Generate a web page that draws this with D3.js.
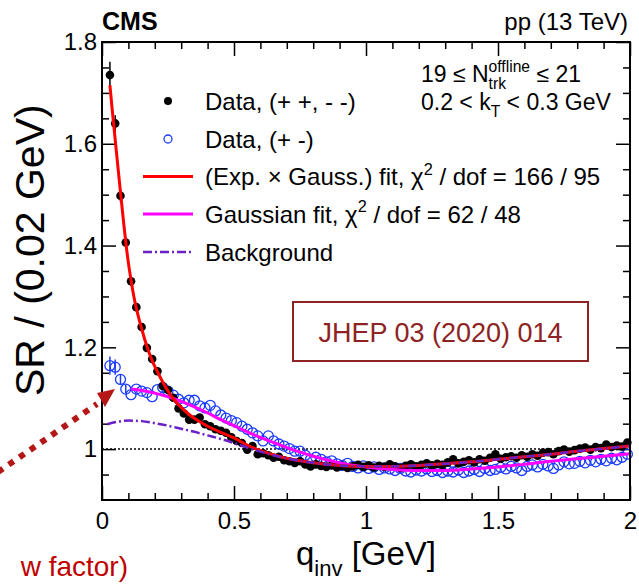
<!DOCTYPE html>
<html>
<head>
<meta charset="utf-8">
<script src="https://cdn.jsdelivr.net/npm/d3@7"></script>
<style>
  body { margin: 0; background: #fff; }
  svg text { font-family: "Liberation Sans", Arial, Helvetica, sans-serif; white-space: pre; }
</style>
</head>
<body>
<svg id="chart" width="639" height="584"></svg>
<script>
// q_inv bin centres (GeV)
const qBins = [
  0.03, 0.05, 0.07, 0.09, 0.11, 0.13, 0.15, 0.17, 0.19, 0.21,
  0.23, 0.25, 0.27, 0.29, 0.31, 0.33, 0.35, 0.37, 0.39, 0.41,
  0.43, 0.45, 0.47, 0.49, 0.51, 0.53, 0.55, 0.57, 0.59, 0.61,
  0.63, 0.65, 0.67, 0.69, 0.71, 0.73, 0.75, 0.77, 0.79, 0.81,
  0.83, 0.85, 0.87, 0.89, 0.91, 0.93, 0.95, 0.97, 0.99, 1.01,
  1.03, 1.05, 1.07, 1.09, 1.11, 1.13, 1.15, 1.17, 1.19, 1.21,
  1.23, 1.25, 1.27, 1.29, 1.31, 1.33, 1.35, 1.37, 1.39, 1.41,
  1.43, 1.45, 1.47, 1.49, 1.51, 1.53, 1.55, 1.57, 1.59, 1.61,
  1.63, 1.65, 1.67, 1.69, 1.71, 1.73, 1.75, 1.77, 1.79, 1.81,
  1.83, 1.85, 1.87, 1.89, 1.91, 1.93, 1.95, 1.97, 1.99
];

// same-sign pairs (+ +, - -)
const srSame = [
  1.735, 1.640, 1.498, 1.406, 1.330, 1.279, 1.240, 1.199, 1.177, 1.153,
  1.124, 1.116, 1.101, 1.080, 1.070, 1.058, 1.058, 1.062, 1.049, 1.045,
  1.039, 1.036, 1.032, 1.023, 1.016, 1.012, 0.999, 1.006, 0.990, 0.992,
  0.988, 0.983, 0.985, 0.978, 0.976, 0.973, 0.976, 0.970, 0.966, 0.970,
  0.967, 0.965, 0.968, 0.964, 0.967, 0.963, 0.966, 0.969, 0.965, 0.968,
  0.964, 0.967, 0.965, 0.970, 0.966, 0.963, 0.967, 0.970, 0.966, 0.969,
  0.972, 0.968, 0.971, 0.969, 0.974, 0.980, 0.972, 0.975, 0.978, 0.974,
  0.980, 0.977, 0.983, 0.990, 0.981, 0.984, 0.986, 0.983, 0.988, 0.985,
  0.990, 0.987, 0.993, 0.994, 0.990, 0.996, 0.999, 0.995, 0.998, 1.001,
  1.003, 0.999, 1.004, 1.002, 1.009, 1.004, 1.007, 1.005, 1.013
];

// opposite-sign pairs (+ -)
const srOpp = [
  1.164, 1.161, 1.137, 1.118, 1.107, 1.118, 1.114, 1.111, 1.103, 1.117,
  1.121, 1.114, 1.106, 1.098, 1.091, 1.096, 1.096, 1.085, 1.081, 1.086,
  1.075, 1.067, 1.061, 1.056, 1.052, 1.045, 1.039, 1.032, 1.026, 1.016,
  1.026, 1.016, 1.010, 1.006, 1.001, 0.996, 0.996, 0.988, 0.980, 0.984,
  0.980, 0.975, 0.977, 0.971, 0.968, 0.972, 0.966, 0.963, 0.967, 0.962,
  0.965, 0.960, 0.963, 0.961, 0.958, 0.962, 0.957, 0.955, 0.959, 0.957,
  0.961, 0.956, 0.958, 0.954, 0.957, 0.955, 0.959, 0.954, 0.957, 0.960,
  0.956, 0.962, 0.958, 0.960, 0.964, 0.961, 0.966, 0.963, 0.958, 0.966,
  0.969, 0.965, 0.970, 0.967, 0.962, 0.969, 0.975, 0.971, 0.972, 0.976,
  0.973, 0.978, 0.975, 0.980, 0.977, 0.982, 0.979, 0.984, 0.990
];

// visible error bars (first bins only; the rest hide under the markers)
const errSame = [0.026, 0.016, 0.012, 0.010, 0.009, 0.008];
const errOpp = [0.018, 0.015, 0.010, 0.008];

// fit curves
const fitExpQ = [0.03, 0.04, 0.05, 0.06, 0.07, 0.08, 0.09, 0.10, 0.11, 0.12, 0.13, 0.14, 0.15, 0.17, 0.19, 0.21, 0.23, 0.25, 0.27, 0.30, 0.33, 0.36, 0.40, 0.45, 0.50, 0.55, 0.60, 0.65, 0.70, 0.75, 0.80, 0.90, 1.00, 1.10, 1.20, 1.30, 1.40, 1.50, 1.60, 1.70, 1.80, 1.90, 2.00];
const fitExpV = [1.715, 1.660, 1.608, 1.556, 1.505, 1.455, 1.407, 1.366, 1.332, 1.302, 1.277, 1.256, 1.237, 1.202, 1.174, 1.152, 1.132, 1.114, 1.099, 1.082, 1.068, 1.057, 1.045, 1.033, 1.022, 1.008, 0.997, 0.989, 0.982, 0.977, 0.973, 0.968, 0.966, 0.966, 0.968, 0.971, 0.975, 0.980, 0.985, 0.990, 0.996, 1.001, 1.006];

const fitGausQ = [0.11, 0.15, 0.20, 0.25, 0.30, 0.35, 0.40, 0.45, 0.50, 0.55, 0.60, 0.65, 0.70, 0.75, 0.80, 0.85, 0.90, 1.00, 1.10, 1.20, 1.30, 1.40, 1.50, 1.60, 1.70, 1.80, 1.90, 2.00];
const fitGausV = [1.118, 1.115, 1.110, 1.103, 1.094, 1.083, 1.071, 1.058, 1.046, 1.034, 1.023, 1.013, 1.003, 0.994, 0.986, 0.979, 0.973, 0.965, 0.960, 0.958, 0.958, 0.961, 0.965, 0.970, 0.976, 0.981, 0.986, 0.991];

const bkgQ = [0.02, 0.06, 0.10, 0.15, 0.20, 0.25, 0.30, 0.35, 0.40, 0.45, 0.50, 0.55, 0.60, 0.65, 0.70, 0.75, 0.80, 0.90, 1.00, 1.10, 1.20, 1.30, 1.40, 1.50, 1.60, 1.70, 1.80, 1.90, 2.00];
const bkgV = [1.049, 1.054, 1.056, 1.055, 1.051, 1.046, 1.040, 1.034, 1.027, 1.020, 1.012, 1.003, 0.995, 0.988, 0.982, 0.977, 0.973, 0.968, 0.966, 0.966, 0.968, 0.971, 0.975, 0.980, 0.985, 0.990, 0.996, 1.001, 1.006];

// axes
const xTicks = [0, 0.5, 1, 1.5, 2];
const xTickLabels = ["0", "0.5", "1", "1.5", "2"];
const yTicks = [1, 1.2, 1.4, 1.6, 1.8];
const yTickLabels = ["1", "1.2", "1.4", "1.6", "1.8"];

const legendLabels = ["Data, (+ +, - -)", "Data, (+ -)", "(Exp. × Gauss.) fit, χ", "Gaussian fit, χ", "Background"];
const legendChi = ["", "", " / dof = 166 / 95", " / dof = 62 / 48", ""];

// styling
const fontMain = "'Liberation Sans', Arial, Helvetica, sans-serif";
const fontSlide = "Lato, 'Open Sans', sans-serif";
const redFit = "#ff0000";
const magentaFit = "#ff00ff";
const bkgColour = "#6b21c8";
const blueData = "#1a3cff";
const slideRed = "#8e2323";
const arrowRed = "#b51616";

const plot = { left: 102, right: 630, top: 42, bottom: 500 };

const svg = d3.select("#chart");

const x = d3.scaleLinear().domain([0, 2]).range([plot.left, plot.right]);
const y = d3.scaleLinear().domain([0.9, 1.8]).range([plot.bottom, plot.top]);

const xMinor = x.ticks(20).filter(d => !xTicks.includes(d));
const yMinor = d3.range(0.95, 1.8, 0.05).map(d => +d.toFixed(2)).filter(d => !yTicks.some(t => Math.abs(t - d) < 1e-6));

function styleAxis(g) {
  g.attr("font-family", fontMain).attr("font-size", 24);
  g.select(".domain").remove();
  g.selectAll(".tick line").attr("stroke", "#000").attr("stroke-width", 1.5);
  g.selectAll(".tick text").attr("fill", "#000");
}

// bottom
svg.append("g").attr("transform", `translate(0,${plot.bottom})`)
  .call(d3.axisBottom(x).tickValues(xTicks).tickSize(-14).tickSizeOuter(0).tickPadding(12)
    .tickFormat((d, i) => xTickLabels[i]))
  .call(styleAxis);
svg.append("g").attr("transform", `translate(0,${plot.bottom})`)
  .call(d3.axisBottom(x).tickValues(xMinor).tickSize(-7).tickSizeOuter(0).tickFormat(""))
  .call(styleAxis);
// top
svg.append("g").attr("transform", `translate(0,${plot.top})`)
  .call(d3.axisTop(x).tickValues(xTicks).tickSize(-14).tickSizeOuter(0).tickFormat(""))
  .call(styleAxis);
svg.append("g").attr("transform", `translate(0,${plot.top})`)
  .call(d3.axisTop(x).tickValues(xMinor).tickSize(-7).tickSizeOuter(0).tickFormat(""))
  .call(styleAxis);
// left
svg.append("g").attr("transform", `translate(${plot.left},0)`)
  .call(d3.axisLeft(y).tickValues(yTicks).tickSize(-14).tickSizeOuter(0).tickPadding(5)
    .tickFormat((d, i) => yTickLabels[i]))
  .call(styleAxis);
svg.append("g").attr("transform", `translate(${plot.left},0)`)
  .call(d3.axisLeft(y).tickValues(yMinor).tickSize(-7).tickSizeOuter(0).tickFormat(""))
  .call(styleAxis);
// right
svg.append("g").attr("transform", `translate(${plot.right},0)`)
  .call(d3.axisRight(y).tickValues(yTicks).tickSize(-14).tickSizeOuter(0).tickFormat(""))
  .call(styleAxis);
svg.append("g").attr("transform", `translate(${plot.right},0)`)
  .call(d3.axisRight(y).tickValues(yMinor).tickSize(-7).tickSizeOuter(0).tickFormat(""))
  .call(styleAxis);

// reference line at 1
svg.append("line")
  .attr("x1", x(0)).attr("x2", x(2))
  .attr("y1", y(1)).attr("y2", y(1))
  .attr("stroke", "#000").attr("stroke-width", 1.5).attr("stroke-dasharray", "2,2");

const plotArea = svg.append("g");

// opposite-sign data
plotArea.selectAll(".errOpp")
  .data(errOpp)
  .join("line")
  .attr("x1", (d, i) => x(qBins[i])).attr("x2", (d, i) => x(qBins[i]))
  .attr("y1", (d, i) => y(srOpp[i] - d)).attr("y2", (d, i) => y(srOpp[i] + d))
  .attr("stroke", blueData).attr("stroke-width", 1.5);

plotArea.selectAll(".opp")
  .data(srOpp)
  .join("circle")
  .attr("cx", (d, i) => x(qBins[i]))
  .attr("cy", d => y(d))
  .attr("r", 5)
  .attr("fill", "none")
  .attr("stroke", blueData)
  .attr("stroke-width", 1.3);

// same-sign data
plotArea.selectAll(".errSame")
  .data(errSame)
  .join("line")
  .attr("x1", (d, i) => x(qBins[i])).attr("x2", (d, i) => x(qBins[i]))
  .attr("y1", (d, i) => y(srSame[i] - d)).attr("y2", (d, i) => y(srSame[i] + d))
  .attr("stroke", "#000").attr("stroke-width", 1.5);

plotArea.selectAll(".same")
  .data(srSame)
  .join("circle")
  .attr("cx", (d, i) => x(qBins[i]))
  .attr("cy", d => y(d))
  .attr("r", 4.3)
  .attr("fill", "#000");

// fits
const line = d3.line().x(d => x(d[0])).y(d => y(d[1])).curve(d3.curveMonotoneX);

plotArea.append("path")
  .attr("d", line(d3.zip(fitGausQ, fitGausV)))
  .attr("fill", "none").attr("stroke", magentaFit).attr("stroke-width", 3);

plotArea.append("path")
  .attr("d", line(d3.zip(fitExpQ, fitExpV)))
  .attr("fill", "none").attr("stroke", redFit).attr("stroke-width", 3);

plotArea.append("path")
  .attr("d", line(d3.zip(bkgQ, bkgV)))
  .attr("fill", "none").attr("stroke", bkgColour).attr("stroke-width", 2.5)
  .attr("stroke-dasharray", "9,3,2,3");

// frame
svg.append("rect")
  .attr("x", plot.left).attr("y", plot.top)
  .attr("width", plot.right - plot.left).attr("height", plot.bottom - plot.top)
  .attr("fill", "none").attr("stroke", "#000").attr("stroke-width", 2);

// rich text helper (super/subscripts)
function richText(g, x0, y0, parts, size) {
  let cx = x0;
  parts.forEach(p => {
    if (p.t !== undefined) {
      const el = g.append("text").attr("x", cx).attr("y", y0).attr("font-size", size).text(p.t);
      cx += el.node().getComputedTextLength();
    } else {
      let w = 0;
      if (p.sup) {
        const e = g.append("text").attr("x", cx).attr("y", y0 - size * 0.42).attr("font-size", size * 0.68).text(p.sup);
        w = Math.max(w, e.node().getComputedTextLength());
      }
      if (p.sub) {
        const e = g.append("text").attr("x", cx).attr("y", y0 + size * 0.3).attr("font-size", size * 0.68).text(p.sub);
        w = Math.max(w, e.node().getComputedTextLength());
      }
      cx += w;
    }
  });
  return cx;
}

// legend
const legend = svg.append("g");
const legendY = [101, 139, 176.5, 214, 252];
legend.append("circle").attr("cx", 168).attr("cy", legendY[0]).attr("r", 4).attr("fill", "#000");
legend.append("circle").attr("cx", 168).attr("cy", legendY[1]).attr("r", 4)
  .attr("fill", "none").attr("stroke", blueData).attr("stroke-width", 1.3);
legend.append("line").attr("x1", 143).attr("x2", 193).attr("y1", legendY[2]).attr("y2", legendY[2])
  .attr("stroke", redFit).attr("stroke-width", 3);
legend.append("line").attr("x1", 143).attr("x2", 193).attr("y1", legendY[3]).attr("y2", legendY[3])
  .attr("stroke", magentaFit).attr("stroke-width", 3);
legend.append("line").attr("x1", 143).attr("x2", 193).attr("y1", legendY[4]).attr("y2", legendY[4])
  .attr("stroke", bkgColour).attr("stroke-width", 2.5).attr("stroke-dasharray", "9,3,2,3");

legendLabels.forEach((lab, i) => {
  const parts = [{ t: lab }];
  if (legendChi[i]) { parts.push({ sup: "2" }); parts.push({ t: legendChi[i] }); }
  richText(legend, 205, legendY[i] + 8.5, parts, 24);
});

// header
svg.append("text").attr("x", plot.left).attr("y", 30)
  .attr("font-size", 25).attr("font-weight", "bold").text("CMS");
svg.append("text").attr("x", 628).attr("y", 30).attr("text-anchor", "end")
  .attr("font-size", 24).text("pp (13 TeV)");

// selection labels
const info = svg.append("g");
richText(info, 421, 82, [{ t: "19 ≤ N" }, { sup: "offline", sub: "trk" }, { t: " ≤ 21" }], 23);
richText(info, 421, 110, [{ t: "0.2 < k" }, { sub: "T" }, { t: " < 0.3 GeV" }], 23);

// axis titles
const xt = svg.append("text").attr("x", 366).attr("y", 565).attr("text-anchor", "middle").attr("font-size", 33);
xt.append("tspan").text("q");
xt.append("tspan").attr("font-size", 22).attr("dy", 11).text("inv");
xt.append("tspan").attr("dy", -11).text(" [GeV]");

svg.append("text")
  .attr("transform", "translate(44,396) rotate(-90)")
  .attr("font-size", 41)
  .text("SR / (0.02 GeV)");

// slide annotations
svg.append("rect").attr("x", 293).attr("y", 302).attr("width", 295).attr("height", 59)
  .attr("fill", "#fff").attr("stroke", slideRed).attr("stroke-width", 2);
svg.append("text").attr("x", 440.5).attr("y", 342).attr("text-anchor", "middle")
  .attr("font-family", fontSlide).attr("font-size", 27).attr("fill", slideRed)
  .text("JHEP 03 (2020) 014");

svg.append("line").attr("x1", -2).attr("y1", 472).attr("x2", 97).attr("y2", 404)
  .attr("stroke", arrowRed).attr("stroke-width", 6).attr("stroke-dasharray", "6,7");
svg.append("polygon").attr("points", "97,393 115,389 105,407").attr("fill", arrowRed);

svg.append("text").attr("x", 128).attr("y", 576).attr("text-anchor", "end")
  .attr("font-family", fontSlide).attr("font-size", 28).attr("fill", "#c00000")
  .text("w factor)");
</script>
</body>
</html>
